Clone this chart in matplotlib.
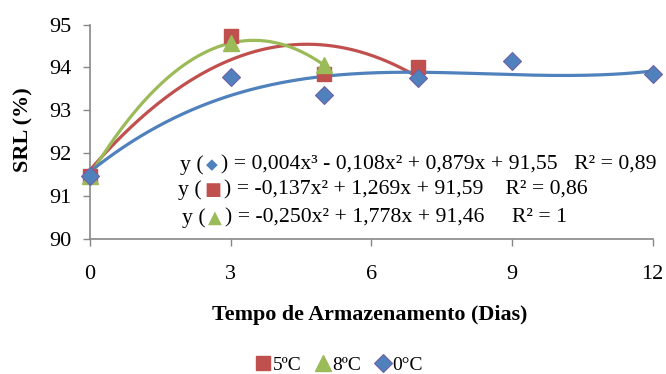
import numpy as np
import matplotlib
matplotlib.use("Agg")
import matplotlib.pyplot as plt
from matplotlib.offsetbox import TextArea, HPacker, AnchoredOffsetbox

plt.rcParams["font.family"] = ["Liberation Serif", "DejaVu Sans"]

# dias de armazenamento e SRL (%)
dias_5 = [0, 3, 5, 7]
srl_5 = [91.47, 94.74, 93.85, 94.01]
dias_8 = [0, 3, 5]
srl_8 = [91.47, 94.57, 94.05]
dias_0 = [0, 3, 5, 7, 9, 12]
srl_0 = [91.47, 93.78, 93.36, 93.75, 94.14, 93.84]

eq_0 = ") = 0,004x³ - 0,108x² + 0,879x + 91,55   R² = 0,89"
eq_5 = ") = -0,137x² + 1,269x + 91,59    R² = 0,86"
eq_8 = ") = -0,250x² + 1,778x + 91,46     R² = 1"

red = "#C0504D"
green = "#9BBB59"
blue = "#4F81BD"

fig = plt.figure(figsize=(6.66, 3.74), dpi=100)
ax = fig.add_axes([0.135, 0.362, 0.845, 0.572])

# pontos
ax.plot(dias_5, srl_5, "s", color=red, ms=10.5, mec=red, zorder=3, label="5ºC", clip_on=False)
ax.plot(dias_8, srl_8, "^", color=green, ms=11, mec=green, zorder=3, label="8ºC", clip_on=False)
ax.plot(dias_0, srl_0, "D", color=blue, ms=9, mec="#7060A8", mew=0.8, zorder=4, label="0°C",
        clip_on=False)

# linhas de tendencia
for xs, ys, deg, c in [(dias_5, srl_5, 2, red), (dias_8, srl_8, 2, green), (dias_0, srl_0, 3, blue)]:
    p = np.polyfit(xs, ys, deg)
    xx = np.linspace(0, max(xs), 200)
    ax.plot(xx, np.polyval(p, xx), color=c, lw=2.3, zorder=2, solid_capstyle="round", clip_on=False)

ax.set_xlim(0, 12)
ax.set_ylim(90, 95)
ax.set_xticks([0, 3, 6, 9, 12])
ax.set_yticks([90, 91, 92, 93, 94, 95])
ax.tick_params(labelsize=16, color="#878787", length=5, width=1)
ax.tick_params(axis="x", pad=14)
ax.tick_params(axis="y", pad=8)
for lab in ax.get_xticklabels() + ax.get_yticklabels():
    lab.set_family(["Liberation Serif", "DejaVu Sans"])
for s in ["top", "right"]:
    ax.spines[s].set_visible(False)
for s in ["left", "bottom"]:
    ax.spines[s].set_color("#878787")
    ax.spines[s].set_linewidth(1.2)

fig.text(23 / 666, 1 - 130 / 374, "SRL (%)", rotation=90, ha="center", va="center",
         fontsize=16, fontweight="bold")
fig.text(370 / 666, 1 - 315 / 374, "Tempo de Armazenamento (Dias)", ha="center", va="center",
         fontsize=15.8, fontweight="bold")

# equacoes com marcador colorido
def equation(sym, c, rest, x, y, size):
    parts = [TextArea("y (", textprops=dict(fontsize=15.7)),
             TextArea(sym, textprops=dict(fontsize=size, color=c, family="DejaVu Sans")),
             TextArea(rest, textprops=dict(fontsize=15.7))]
    box = HPacker(children=parts, align="center", pad=0, sep=2)
    ab = AnchoredOffsetbox(loc="center left", child=box, pad=0, frameon=False,
                           bbox_to_anchor=(x / 666, 1 - y / 374),
                           bbox_transform=fig.transFigure, borderpad=0)
    fig.add_artist(ab)

equation("◆", blue, eq_0, 180, 165, 11)
equation("■", red, eq_5, 178, 190, 13)
equation("▲", green, eq_8, 182, 218, 13)

fig.legend(loc="center", bbox_to_anchor=(338 / 666, 1 - 365 / 374), ncol=3, frameon=False,
           fontsize=14, handletextpad=0.0, columnspacing=0.6, handlelength=1.0)

fig.savefig("out.png", dpi=100)
